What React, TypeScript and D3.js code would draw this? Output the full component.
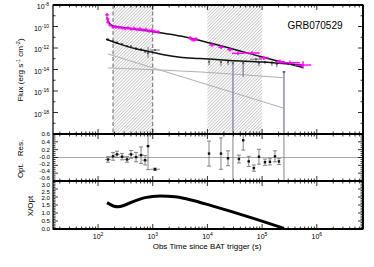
import React, { useEffect, useRef } from "react";
import * as d3 from "d3";

// X-ray flux points (magenta)
const xray_t = [146, 149, 152, 166, 188, 213, 242, 275, 312, 354, 401, 455, 516, 586, 665, 755, 856, 971, 1100, 1250, 4810, 5230, 5690, 6190, 12100, 17700, 25900, 36300, 65300, 108000, 212000, 324000, 560000];
const xray_flux = [1.2e-9, 5.0e-10, 2.6e-10, 1.4e-10, 8.9e-11, 8.9e-11, 8.1e-11, 7.2e-11, 6.5e-11, 7.2e-11, 5.9e-11, 6.5e-11, 5.2e-11, 5.9e-11, 4.7e-11, 5.2e-11, 3.8e-11, 4.3e-11, 3.4e-11, 3.1e-11, 8.5e-12, 6.2e-12, 5.5e-12, 6.9e-12, 1.9e-12, 1.2e-12, 6.9e-13, 3.2e-13, 3.4e-13, 1.2e-13, 5.4e-14, 4.3e-14, 2.6e-14];
// half widths in dex
const xray_terr = [0.02, 0.02, 0.02, 0.02, 0.02, 0.02, 0.02, 0.02, 0.02, 0.02, 0.02, 0.02, 0.02, 0.02, 0.02, 0.02, 0.02, 0.02, 0.02, 0.02, 0.03, 0.03, 0.03, 0.03, 0.05, 0.05, 0.05, 0.11, 0.14, 0.09, 0.09, 0.18, 0.15];
const xray_ferr = [0.15, 0.15, 0.15, 0.15, 0.15, 0.15, 0.15, 0.15, 0.15, 0.15, 0.15, 0.15, 0.15, 0.15, 0.15, 0.15, 0.15, 0.15, 0.15, 0.15, 0.15, 0.15, 0.15, 0.15, 0.15, 0.15, 0.15, 0.15, 0.15, 0.2, 0.2, 0.2, 0.35];

// optical flux points
const opt_t = [152, 188, 222, 275, 339, 401, 495, 612, 724, 820, 1100, 10700, 17700, 23800, 29300, 45100, 77500, 87600, 113000, 151000, 186000, 251000];
const opt_flux = [6.2e-12, 4.5e-12, 3.2e-12, 2.3e-12, 1.5e-12, 1.4e-12, 8.9e-13, 7.2e-13, 4.7e-13, 3.4e-13, 6.5e-13, 5.4e-14, 5.0e-14, 5.0e-14, 3.8e-14, 4.0e-14, 8.9e-14, 4.3e-14, 5.0e-14, 4.3e-14, 3.2e-14, 5.9e-15];
const opt_err_lo = [0.1, 0.1, 0.1, 0.1, 0.1, 0.1, 0.1, 0.1, 0.1, 0.47, 0.1, 0.31, 0.4, 0.3, 10, 1.3, 0.1, 0.3, 0.2, 0.3, 0.3, 10];
const opt_err_hi = [0.1, 0.1, 0.1, 0.1, 0.1, 0.1, 0.1, 0.1, 0.1, 0.56, 0.1, 0.1, 0.1, 0.1, 0.1, 0.1, 0.1, 0.1, 0.1, 0.1, 0.1, 0.1];
const opt_terr = [0.02, 0.02, 0.02, 0.02, 0.02, 0.02, 0.02, 0.02, 0.02, 0.02, 0.09, 0.02, 0.02, 0.02, 0.02, 0.02, 0.11, 0.02, 0.02, 0.02, 0.02, 0.03];

// model curves
const xmodel_t = [146, 152, 166, 188, 253, 384, 586, 971, 1680, 3900, 11200, 39300, 138000, 560000];
const xmodel_flux = [7.6e-10, 3.2e-10, 1.7e-10, 1.1e-10, 8.5e-11, 6.5e-11, 4.9e-11, 3.4e-11, 2.2e-11, 1.05e-11, 2.9e-12, 5.3e-13, 9.5e-14, 1.55e-14];
const omodel_t = [140, 253, 474, 894, 1680, 3150, 7300, 25900, 104000, 535000];
const omodel_flux = [6.5e-12, 2.3e-12, 8.9e-13, 4.5e-13, 2.2e-13, 1.35e-13, 1.05e-13, 6.9e-14, 5.0e-14, 2.6e-14];
const comp_a_t = [152, 251000];
const comp_a_flux = [2.75e-13, 2.5e-18];
const comp_b_t = [152, 7300, 251000];
const comp_b_flux = [1.4e-14, 5.9e-15, 1.7e-15];

// hatched windows (s)
const windows = [[188, 1000], [10000, 100000]];
const dashed_t = [188, 1000];

// optical residuals
const res_t = [152, 188, 222, 275, 339, 401, 495, 612, 724, 820, 1100, 10700, 17700, 23800, 29300, 37700, 45100, 57000, 70700, 87600, 113000, 139000, 172000, 203000, 251000];
const res_v = [-0.05, 0.03, 0.08, 0.02, -0.05, 0.08, 0.01, 0.06, -0.07, 0.29, -0.3, 0.1, 0.1, -0.02, 0.62, -0.04, 0.44, -0.1, -0.27, 0.02, -0.12, -0.11, 0.03, -0.1, -2.0];
const res_err = [0.07, 0.1, 0.08, 0.08, 0.07, 0.1, 0.12, 0.21, 0.12, 0.6, 0.03, 0.32, 0.4, 0.19, 3, 0.1, 0.25, 0.13, 0.08, 0.19, 0.08, 0.08, 0.14, 0.08, 3];
const res_terr = [0.05, 0.05, 0.05, 0.05, 0.05, 0.05, 0.05, 0.05, 0.05, 0.03, 0.09, 0.02, 0.02, 0.02, 0.02, 0.02, 0.02, 0.02, 0.02, 0.02, 0.02, 0.02, 0.02, 0.02, 0.02];

// X/Opt ratio
const ratio_t = [146, 166, 196, 232, 312, 474, 723, 1360, 2560, 4810, 12650, 53000, 251000];
const ratio_v = [1.65, 1.54, 1.42, 1.39, 1.5, 1.76, 1.96, 2.07, 2.02, 1.83, 1.43, 0.79, 0.04];

const x_ticks = [100, 1000, 10000, 100000, 1000000];
const x_tick_exp = ["2", "3", "4", "5", "6"];
const flux_ticks = [1e-8, 1e-10, 1e-12, 1e-14, 1e-16, 1e-18];
const flux_tick_exp = ["-8", "-10", "-12", "-14", "-16", "-18"];
const res_ticks = [0.6, 0.4, 0.2, 0, -0.2, -0.4, -0.6];
const res_labels = ["0.6", "0.4", "0.2", "-0.0", "-0.2", "-0.4", "-0.6"];
const ratio_ticks = [3, 2.5, 2, 1.5, 1, 0.5, 0];
const ratio_labels = ["3.0", "2.5", "2.0", "1.5", "1.0", "0.5", "0.0"];

const FONT = "'Liberation Sans', Arial, Helvetica, sans-serif";

// push label centres apart so they keep at least `gap` px between them
function spread(ys: number[], gap: number) {
  const out = ys.slice();
  for (let it = 0; it < 60; it++) {
    for (let i = 1; i < out.length; i++) {
      const d = out[i] - out[i - 1];
      if (d < gap) {
        const s = (gap - d) / 2;
        out[i - 1] -= s;
        out[i] += s;
      }
    }
  }
  return out;
}

export default function App() {
  const ref = useRef<SVGSVGElement>(null);

  useEffect(() => {
    const svg = d3.select(ref.current);
    svg.selectAll("*").remove();

    const left = 53, right = 363;
    const p1 = [5, 134], p2 = [134, 181], p3 = [181, 229];

    const x = d3.scaleLog().domain([15, 7e6]).range([left, right]);
    const y1 = d3.scaleLog().domain([1e-20, 1e-8]).range([p1[1], p1[0]]);
    const y2 = d3.scaleLinear().domain([-0.6, 0.6]).range([p2[1], p2[0]]);
    const y3 = d3.scaleLinear().domain([0, 3]).range([p3[1], p3[0]]);

    const defs = svg.append("defs");
    defs.append("pattern")
      .attr("id", "hatch")
      .attr("patternUnits", "userSpaceOnUse")
      .attr("width", 2.3)
      .attr("height", 2.3)
      .attr("patternTransform", "rotate(45)")
      .append("line")
      .attr("x1", 0.5).attr("y1", 0).attr("x2", 0.5).attr("y2", 2.3)
      .attr("stroke", "#a0a0a0")
      .attr("stroke-width", 0.55);
    [p1, p2, p3].forEach((p, i) => {
      defs.append("clipPath").attr("id", "clip" + i)
        .append("rect").attr("x", left).attr("y", p[0]).attr("width", right - left).attr("height", p[1] - p[0]);
    });

    const dex = (v: number, d: number) => v * Math.pow(10, d);

    // ---- panel 1 ----
    const g1 = svg.append("g").attr("clip-path", "url(#clip0)");
    windows.forEach(w => {
      g1.append("rect")
        .attr("x", x(w[0])).attr("y", p1[0])
        .attr("width", x(w[1]) - x(w[0])).attr("height", p1[1] - p1[0])
        .attr("fill", "url(#hatch)");
    });
    dashed_t.forEach(t => {
      g1.append("line")
        .attr("x1", x(t)).attr("x2", x(t)).attr("y1", p1[0]).attr("y2", p1[1])
        .attr("stroke", "#666").attr("stroke-width", 1).attr("stroke-dasharray", "4,2.5");
    });

    const line1 = d3.line<[number, number]>()
      .x(d => x(d[0])).y(d => y1(d[1]))
      .curve(d3.curveMonotoneX);
    g1.append("path").datum(d3.zip(comp_a_t, comp_a_flux) as [number, number][])
      .attr("d", line1).attr("fill", "none").attr("stroke", "#b0b0b0").attr("stroke-width", 1);
    g1.append("path").datum(d3.zip(comp_b_t, comp_b_flux) as [number, number][])
      .attr("d", line1).attr("fill", "none").attr("stroke", "#b0b0b0").attr("stroke-width", 1);

    // optical points
    opt_t.forEach((t, i) => {
      const f = opt_flux[i];
      const col = opt_err_lo[i] > 1 ? "#9a90b2" : "#8e86a0";
      g1.append("line")
        .attr("x1", x(t)).attr("x2", x(t))
        .attr("y1", y1(dex(f, opt_err_hi[i]))).attr("y2", y1(dex(f, -opt_err_lo[i])))
        .attr("stroke", col).attr("stroke-width", opt_err_lo[i] > 1 ? 1.6 : 1.2);
      g1.append("line")
        .attr("x1", x(dex(t, -opt_terr[i]))).attr("x2", x(dex(t, opt_terr[i])))
        .attr("y1", y1(f)).attr("y2", y1(f))
        .attr("stroke", col).attr("stroke-width", 1.2);
      g1.append("rect")
        .attr("x", x(t) - 1).attr("y", y1(f) - 1).attr("width", 2).attr("height", 2)
        .attr("fill", "#666");
    });

    g1.append("path").datum(d3.zip(omodel_t, omodel_flux) as [number, number][])
      .attr("d", line1).attr("fill", "none").attr("stroke", "#111").attr("stroke-width", 1.5);
    g1.append("path").datum(d3.zip(xmodel_t, xmodel_flux) as [number, number][])
      .attr("d", line1).attr("fill", "none").attr("stroke", "#111").attr("stroke-width", 1.5);

    // X-ray points
    xray_t.forEach((t, i) => {
      const f = xray_flux[i];
      const cx = x(t), cy = y1(f);
      const tl = Math.min(x(dex(t, -xray_terr[i])), cx - 1.8);
      const tr = Math.max(x(dex(t, xray_terr[i])), cx + 1.8);
      g1.append("line").attr("x1", tl).attr("x2", tr).attr("y1", cy).attr("y2", cy)
        .attr("stroke", "#ff00ff").attr("stroke-width", 1.4);
      g1.append("line").attr("x1", cx).attr("x2", cx)
        .attr("y1", Math.min(y1(dex(f, xray_ferr[i])), cy - 1.8))
        .attr("y2", Math.max(y1(dex(f, -xray_ferr[i])), cy + 1.8))
        .attr("stroke", "#ff00ff").attr("stroke-width", 1.4);
    });

    // ---- panel 2 ----
    const g2 = svg.append("g").attr("clip-path", "url(#clip1)");
    g2.append("line").attr("x1", left).attr("x2", right).attr("y1", y2(0)).attr("y2", y2(0))
      .attr("stroke", "#aaa").attr("stroke-width", 1);
    res_t.forEach((t, i) => {
      const v = res_v[i], cx = x(t), cy = y2(v);
      const top = y2(v + res_err[i]), bot = y2(v - res_err[i]);
      g2.append("line").attr("x1", cx).attr("x2", cx).attr("y1", top).attr("y2", bot)
        .attr("stroke", "#777").attr("stroke-width", 0.9);
      [top, bot].forEach(yy => {
        g2.append("line").attr("x1", cx - 2).attr("x2", cx + 2).attr("y1", yy).attr("y2", yy)
          .attr("stroke", "#777").attr("stroke-width", 0.9);
      });
      const xl = x(dex(t, -res_terr[i])), xr = x(dex(t, res_terr[i]));
      g2.append("line").attr("x1", xl).attr("x2", xr).attr("y1", cy).attr("y2", cy)
        .attr("stroke", "#777").attr("stroke-width", 0.9);
      g2.append("rect").attr("x", cx - 1.2).attr("y", cy - 1.2).attr("width", 2.4).attr("height", 2.4)
        .attr("fill", "#111");
    });

    // ---- panel 3 ----
    const g3 = svg.append("g").attr("clip-path", "url(#clip2)");
    const line3 = d3.line<[number, number]>()
      .x(d => x(d[0])).y(d => y3(d[1]))
      .curve(d3.curveMonotoneX);
    g3.append("path").datum(d3.zip(ratio_t, ratio_v) as [number, number][])
      .attr("d", line3).attr("fill", "none").attr("stroke", "#000").attr("stroke-width", 3);

    // ---- axes ----
    const ax = svg.append("g").attr("stroke", "#000");
    const minor_x: number[] = [];
    for (let e = 1; e <= 6; e++) {
      for (let k = 2; k <= 9; k++) {
        const v = k * Math.pow(10, e);
        if (v > 15 && v < 7e6) minor_x.push(v);
      }
    }
    [p1, p2, p3].forEach(p => {
      x_ticks.forEach(t => {
        ax.append("line").attr("x1", x(t)).attr("x2", x(t)).attr("y1", p[1]).attr("y2", p[1] - 5).attr("stroke-width", 0.8);
        ax.append("line").attr("x1", x(t)).attr("x2", x(t)).attr("y1", p[0]).attr("y2", p[0] + 5).attr("stroke-width", 0.8);
      });
      minor_x.forEach(t => {
        ax.append("line").attr("x1", x(t)).attr("x2", x(t)).attr("y1", p[1]).attr("y2", p[1] - 2.5).attr("stroke-width", 0.8);
        ax.append("line").attr("x1", x(t)).attr("x2", x(t)).attr("y1", p[0]).attr("y2", p[0] + 2.5).attr("stroke-width", 0.8);
      });
    });

    const ytick = (yy: number, len: number) => {
      ax.append("line").attr("x1", left).attr("x2", left + len).attr("y1", yy).attr("y2", yy).attr("stroke-width", 0.8);
      ax.append("line").attr("x1", right).attr("x2", right - len).attr("y1", yy).attr("y2", yy).attr("stroke-width", 0.8);
    };
    for (let e = -19; e <= -8; e++) ytick(y1(Math.pow(10, e)), e % 2 === 0 ? 5 : 2.5);
    d3.range(-12, 13).forEach(k => ytick(y2(k * 0.05), k % 4 === 0 ? 5 : 2.5));
    d3.range(0, 31).forEach(k => ytick(y3(k * 0.1), k % 5 === 0 ? 5 : 2.5));

    // frames
    ax.append("rect").attr("x", left).attr("y", p1[0]).attr("width", right - left).attr("height", p3[1] - p1[0])
      .attr("fill", "none").attr("stroke-width", 1.2);
    [p1[0], p2[0], p3[0], p3[1]].forEach(yy => {
      ax.append("line").attr("x1", left).attr("x2", right).attr("y1", yy).attr("y2", yy).attr("stroke-width", 1.8);
    });
    ax.append("line").attr("x1", right).attr("x2", right).attr("y1", p1[0]).attr("y2", p3[1]).attr("stroke-width", 1.8);

    // ---- labels ----
    const txt = svg.append("g").attr("font-family", FONT).attr("fill", "#000");
    flux_ticks.forEach((v, i) => {
      const t = txt.append("text").attr("x", 49).attr("y", y1(v) + 4).attr("text-anchor", "end").attr("font-size", 7);
      t.append("tspan").text("10");
      t.append("tspan").attr("dy", -3).attr("font-size", 5).text(flux_tick_exp[i]);
    });

    // stacked labels of the two lower panels share one column
    const low_labels = res_labels.concat(ratio_labels);
    const low_y = spread(res_ticks.map(v => y2(v)).concat(ratio_ticks.map(v => y3(v))), 6.9);
    low_labels.forEach((s, i) => {
      txt.append("text").attr("x", 50).attr("y", low_y[i] + 2.1).attr("text-anchor", "end").attr("font-size", 6.2)
        .text(s);
    });

    x_ticks.forEach((v, i) => {
      const t = txt.append("text").attr("x", x(v)).attr("y", 239).attr("text-anchor", "middle").attr("font-size", 7);
      t.append("tspan").text("10");
      t.append("tspan").attr("dy", -3).attr("font-size", 5).text(x_tick_exp[i]);
    });

    txt.append("text").attr("x", 207).attr("y", 249).attr("text-anchor", "middle").attr("font-size", 8)
      .text("Obs Time since BAT trigger (s)");

    const fl = txt.append("text").attr("transform", "translate(23,70) rotate(-90)")
      .attr("text-anchor", "middle").attr("font-size", 8);
    fl.append("tspan").text("Flux  (erg s");
    fl.append("tspan").attr("dy", -3).attr("font-size", 5.5).text("-1");
    fl.append("tspan").attr("dy", 3).text(" cm");
    fl.append("tspan").attr("dy", -3).attr("font-size", 5.5).text("-2");
    fl.append("tspan").attr("dy", 3).text(")");

    txt.append("text").attr("transform", "translate(23,159) rotate(-90)")
      .attr("text-anchor", "middle").attr("font-size", 8).attr("xml:space", "preserve").text("Opt.   Res.");
    txt.append("text").attr("transform", "translate(33,206) rotate(-90)")
      .attr("text-anchor", "middle").attr("font-size", 8).text("X/Opt");

    txt.append("text").attr("x", 315).attr("y", 29).attr("text-anchor", "middle").attr("font-size", 10)
      .text("GRB070529");
  }, []);

  return (
    <svg
      ref={ref}
      width={374}
      height={267}
      style={{ position: "absolute", left: 0, top: 0, background: "#fff" }}
    />
  );
}
